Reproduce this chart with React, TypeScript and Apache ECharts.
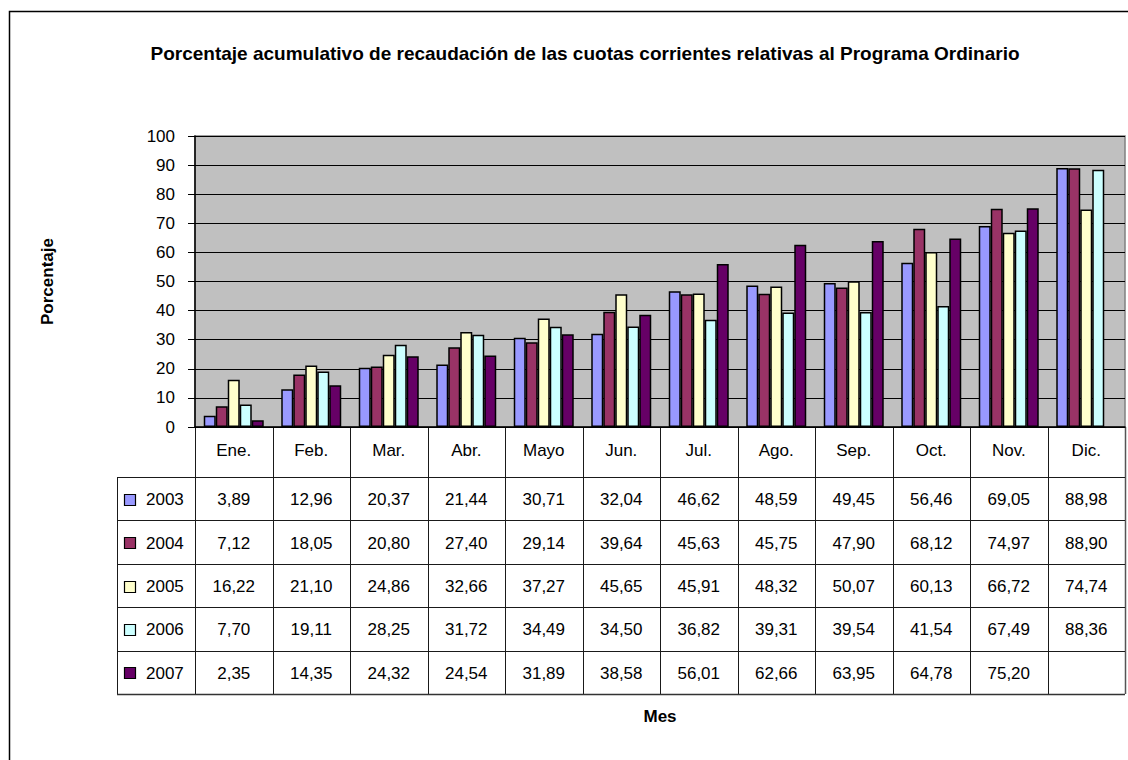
import React, { useEffect, useRef } from "react";
import * as echarts from "echarts";

const months = ["Ene.", "Feb.", "Mar.", "Abr.", "Mayo", "Jun.", "Jul.", "Ago.", "Sep.", "Oct.", "Nov.", "Dic."];
const years = ["2003", "2004", "2005", "2006", "2007"];
const v2003 = [3.89, 12.96, 20.37, 21.44, 30.71, 32.04, 46.62, 48.59, 49.45, 56.46, 69.05, 88.98];
const v2004 = [7.12, 18.05, 20.8, 27.4, 29.14, 39.64, 45.63, 45.75, 47.9, 68.12, 74.97, 88.9];
const v2005 = [16.22, 21.1, 24.86, 32.66, 37.27, 45.65, 45.91, 48.32, 50.07, 60.13, 66.72, 74.74];
const v2006 = [7.7, 19.11, 28.25, 31.72, 34.49, 34.5, 36.82, 39.31, 39.54, 41.54, 67.49, 88.36];
const v2007 = [2.35, 14.35, 24.32, 24.54, 31.89, 38.58, 56.01, 62.66, 63.95, 64.78, 75.2, null];
const yTicks = { min: 0, max: 100, interval: 10 };
const colors = ["#9999FF", "#993366", "#FFFFCC", "#CCFFFF", "#660066"];

const FONT = '"Liberation Sans", Arial, sans-serif';

export default function App() {
  const ref = useRef<HTMLDivElement>(null);
  useEffect(() => {
    document.body.style.margin = "0";
    const chart = echarts.init(ref.current!, null, { renderer: "svg" });
    const series = [v2003, v2004, v2005, v2006, v2007];

    const gl = 195, gt = 136, gr = 1125, gb = 427;
    const colW = (gr - gl) / months.length;
    const tableLeft = 117;
    const headerBottom = 477;
    const tableBottom = 694;
    const rowH = (tableBottom - headerBottom) / years.length;
    const lineColor = "#1a1a1a";

    const g: any[] = [];
    // outer border
    g.push({ type: "rect", shape: { x: 9.5, y: 11.5, width: 1130, height: 760 }, style: { fill: "none", stroke: "#000", lineWidth: 1.5 }, silent: true });
    // vertical column lines
    for (let i = 0; i <= months.length; i++) {
      const x = Math.round(gl + i * colW) + 0.5;
      g.push({ type: "line", shape: { x1: x, y1: gb, x2: x, y2: tableBottom }, style: { stroke: i === months.length ? "#555" : lineColor, lineWidth: i === months.length ? 1.5 : 1 }, silent: true });
    }
    g.push({ type: "line", shape: { x1: tableLeft + 0.5, y1: headerBottom, x2: tableLeft + 0.5, y2: tableBottom }, style: { stroke: lineColor, lineWidth: 1 }, silent: true });
    for (let r = 0; r <= years.length; r++) {
      const y = Math.round(headerBottom + r * rowH) + 0.5;
      g.push({ type: "line", shape: { x1: tableLeft, y1: y, x2: gr, y2: y }, style: { stroke: r === years.length ? "#333" : lineColor, lineWidth: r === years.length ? 1.5 : 1 }, silent: true });
    }
    // row labels + cells
    years.forEach((yr, r) => {
      const cy = headerBottom + r * rowH + rowH / 2 + 1;
      g.push({ type: "rect", shape: { x: 124.5, y: Math.round(cy - 6) + 0.5, width: 11, height: 11 }, style: { fill: colors[r], stroke: "#000", lineWidth: 1.2 }, silent: true });
      g.push({ type: "text", x: 146, y: cy, style: { text: yr, fontFamily: FONT, fontSize: 17, fill: "#000", align: "left", verticalAlign: "middle" }, silent: true });
      series[r].forEach((v, i) => {
        if (v == null) return;
        g.push({ type: "text", x: gl + i * colW + colW / 2, y: cy, style: { text: v.toFixed(2).replace(".", ","), fontFamily: FONT, fontSize: 17, fill: "#000", align: "center", verticalAlign: "middle" }, silent: true });
      });
    });

    chart.setOption({
      animation: false,
      backgroundColor: "#fff",
      title: {
        text: "Porcentaje acumulativo de recaudación de las cuotas corrientes relativas al Programa Ordinario",
        left: 580,
        top: 39,
        textAlign: "center",
        textStyle: { fontFamily: FONT, fontSize: 19, fontWeight: "bold", color: "#000" },
      },
      grid: { left: gl, top: gt, width: gr - gl, height: gb - gt, show: true, backgroundColor: "#C0C0C0", borderColor: "#808080", borderWidth: 1.5, containLabel: false },
      xAxis: {
        type: "category",
        data: months,
        name: "Mes",
        nameLocation: "middle",
        nameGap: 281,
        nameTextStyle: { fontFamily: FONT, fontSize: 17, fontWeight: "bold", color: "#000" },
        axisLine: { show: true, lineStyle: { color: "#000", width: 1.5 } },
        axisTick: { show: false },
        axisLabel: { interval: 0, margin: 15, fontFamily: FONT, fontSize: 17, color: "#000" },
      },
      yAxis: {
        type: "value",
        min: yTicks.min,
        max: yTicks.max,
        interval: yTicks.interval,
        name: "Porcentaje",
        nameLocation: "middle",
        nameRotate: 90,
        nameGap: 139,
        nameTextStyle: { fontFamily: FONT, fontSize: 17, fontWeight: "bold", color: "#000" },
        axisLine: { show: true, lineStyle: { color: "#000", width: 1.5 } },
        axisTick: { show: true, inside: false, length: 7, lineStyle: { color: "#000" } },
        axisLabel: { margin: 20, fontFamily: FONT, fontSize: 17, color: "#000" },
        splitLine: { show: true, lineStyle: { color: "#000", width: 1 } },
      },
      series: series.map((d, i) => ({
        name: years[i],
        type: "bar",
        data: d,
        barWidth: 12,
        barGap: "0%",
        itemStyle: { color: colors[i], borderColor: "#000", borderWidth: 1.5 },
      })),
      graphic: g,
    });
    return () => chart.dispose();
  }, []);
  return <div ref={ref} style={{ width: 1128, height: 760 }} />;
}
